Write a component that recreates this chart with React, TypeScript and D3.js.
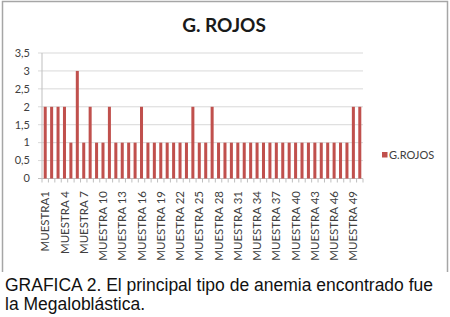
import React from "react";
import * as d3 from "d3";

const categories = [
  "MUESTRA1", "MUESTRA 2", "MUESTRA 3", "MUESTRA 4", "MUESTRA 5", "MUESTRA 6", "MUESTRA 7", "MUESTRA 8", "MUESTRA 9", "MUESTRA 10",
  "MUESTRA 11", "MUESTRA 12", "MUESTRA 13", "MUESTRA 14", "MUESTRA 15", "MUESTRA 16", "MUESTRA 17", "MUESTRA 18", "MUESTRA 19", "MUESTRA 20",
  "MUESTRA 21", "MUESTRA 22", "MUESTRA 23", "MUESTRA 24", "MUESTRA 25", "MUESTRA 26", "MUESTRA 27", "MUESTRA 28", "MUESTRA 29", "MUESTRA 30",
  "MUESTRA 31", "MUESTRA 32", "MUESTRA 33", "MUESTRA 34", "MUESTRA 35", "MUESTRA 36", "MUESTRA 37", "MUESTRA 38", "MUESTRA 39", "MUESTRA 40",
  "MUESTRA 41", "MUESTRA 42", "MUESTRA 43", "MUESTRA 44", "MUESTRA 45", "MUESTRA 46", "MUESTRA 47", "MUESTRA 48", "MUESTRA 49", "MUESTRA 50",
];

const values = [
  2, 2, 2, 2, 1, 3, 1, 2, 1, 1,
  2, 1, 1, 1, 1, 2, 1, 1, 1, 1,
  1, 1, 1, 2, 1, 1, 2, 1, 1, 1,
  1, 1, 1, 1, 1, 1, 1, 1, 1, 1,
  1, 1, 1, 1, 1, 1, 1, 1, 2, 2,
];

const yTicks = [0, 0.5, 1, 1.5, 2, 2.5, 3, 3.5];
const seriesName = "G.ROJOS";
const title = "G. ROJOS";
const captionLines = [
  "GRAFICA 2. El principal tipo de anemia encontrado fue",
  "la Megaloblástica.",
];

const W = 450;
const H = 317;
const plotLeft = 42;
const plotRight = 363;
const plotTop = 53;
const plotBottom = 178.5;
const barColor = "#c0504d";
const gridColor = "#d9d9d9";
const axisColor = "#bfbfbf";
const font = "Lato, 'Open Sans', sans-serif";

export default function App() {
  const x = d3
    .scaleBand<string>()
    .domain(categories)
    .range([plotLeft, plotRight])
    .paddingInner(0.53)
    .paddingOuter(0.265);
  const y = d3.scaleLinear().domain([0, 3.5]).range([plotBottom, plotTop]);
  const step = (plotRight - plotLeft) / categories.length;
  const fmt = (v: number) => String(v).replace(".", ",");

  return (
    <svg
      width={W}
      height={H}
      style={{ position: "absolute", left: 0, top: 0, background: "#fff" }}
    >
      <path d={`M2.5,272 L2.5,1.5 L447.5,1.5 L447.5,272`} fill="none" stroke="#a6a6a6" strokeWidth={1.5} />

      <text x={224} y={32} textAnchor="middle" fontFamily={font} fontWeight={700} fontSize={19} fill="#1a1a1a">
        {title}
      </text>

      {yTicks.map((t) => (
        <g key={t}>
          <line x1={38} x2={plotRight} y1={y(t)} y2={y(t)} stroke={t === 0 ? axisColor : gridColor} strokeWidth={1} />
          <text x={30} y={y(t)} dy="0.35em" textAnchor="end" fontFamily={font} fontSize={11} fill="#404040">
            {fmt(t)}
          </text>
        </g>
      ))}
      <line x1={plotLeft} x2={plotLeft} y1={plotTop} y2={plotBottom} stroke={axisColor} />

      {categories.map((c, i) => (
        <rect
          key={c}
          x={x(c)}
          y={y(values[i])}
          width={x.bandwidth()}
          height={y(0) - y(values[i])}
          fill={barColor}
        />
      ))}

      {d3.range(categories.length + 1).map((i) => (
        <line
          key={i}
          x1={plotLeft + i * step}
          x2={plotLeft + i * step}
          y1={plotBottom}
          y2={plotBottom + 4}
          stroke={axisColor}
        />
      ))}

      {categories.map((c, i) =>
        i % 3 === 0 ? (
          <text
            key={c}
            transform={`translate(${(x(c) as number) + x.bandwidth() / 2},191) rotate(-90)`}
            dy="0.35em"
            textAnchor="end"
            fontFamily={font}
            fontSize={11.5}
            fill="#404040"
          >
            {c}
          </text>
        ) : null
      )}

      <rect x={382} y={152} width={5.5} height={5.5} fill={barColor} />
      <text x={389} y={155} dy="0.35em" fontFamily={font} fontSize={11} fill="#404040">
        {seriesName}
      </text>

      {captionLines.map((l, i) => (
        <text key={i} x={5} y={291 + i * 19} fontFamily="'Liberation Sans', Arial, sans-serif" fontSize={17.5} fill="#111">
          {l}
        </text>
      ))}
    </svg>
  );
}
